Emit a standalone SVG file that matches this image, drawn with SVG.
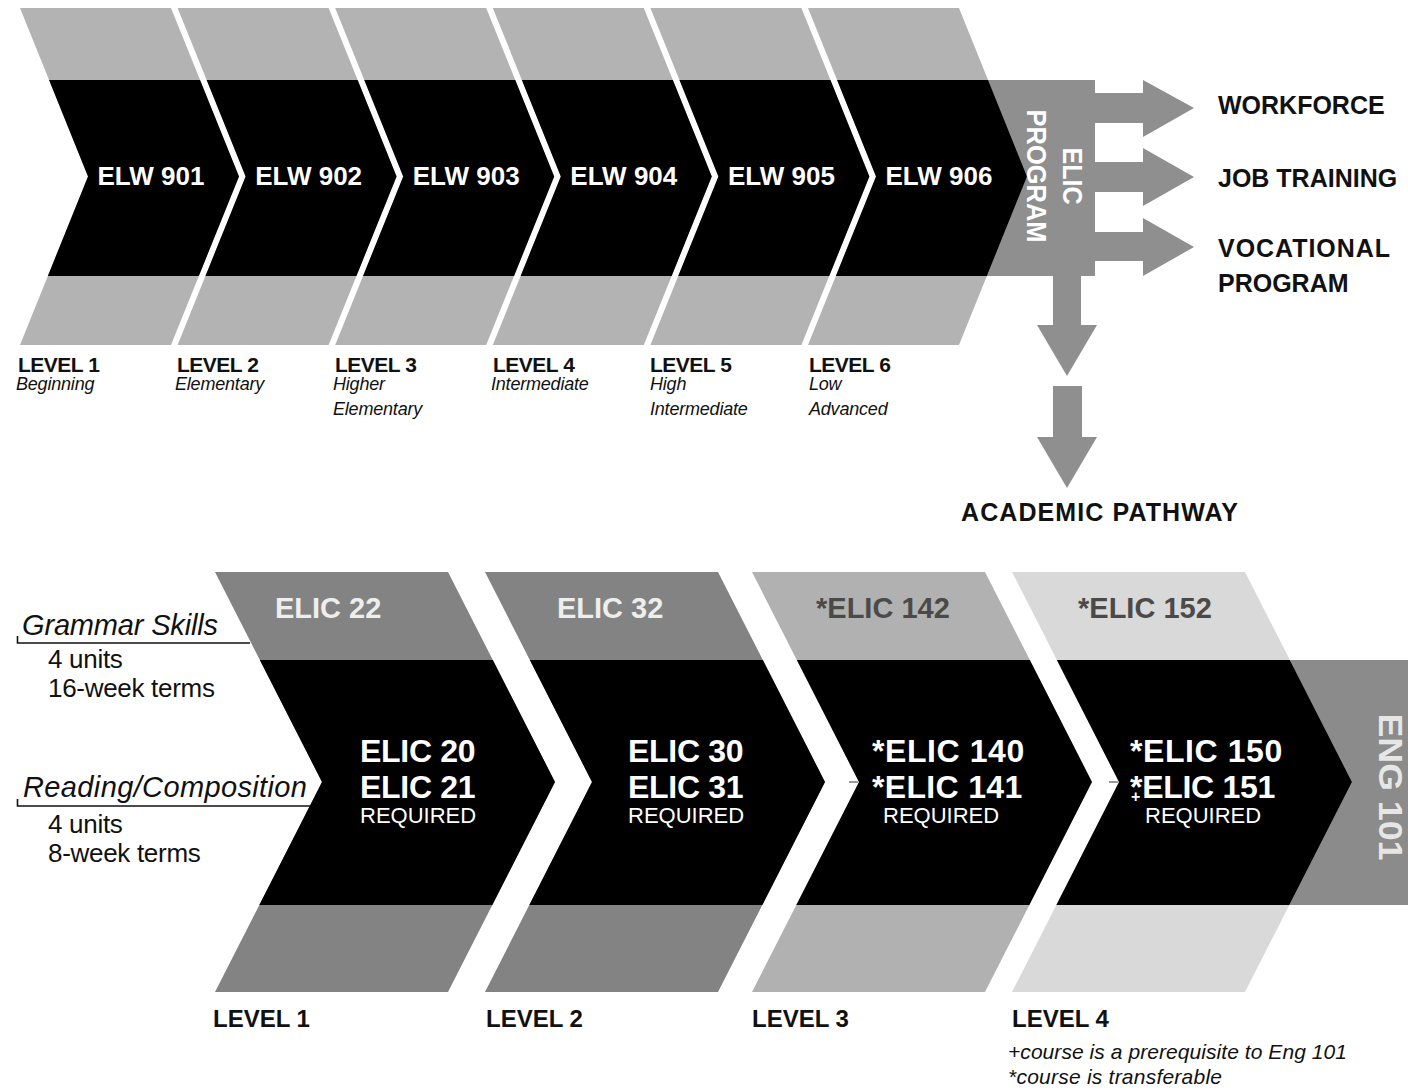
<svg xmlns="http://www.w3.org/2000/svg" xmlns:xlink="http://www.w3.org/1999/xlink" width="1408" height="1092" viewBox="0 0 1408 1092">
<style>
text{font-family:"Liberation Sans",Arial,sans-serif}
.elw{font-size:26px;font-weight:bold;fill:#fff;text-anchor:middle}
.lvl{font-size:21px;font-weight:bold;fill:#111;letter-spacing:-0.5px}
.sub{font-size:18px;font-style:italic;fill:#111;letter-spacing:-0.2px}
.out{font-size:25px;font-weight:bold;fill:#111}
.band{font-size:29px;font-weight:bold}
.main{font-size:32px;font-weight:bold;fill:#fff;letter-spacing:-0.3px}
.req{font-size:22px;fill:#fff}
.blvl{font-size:24px;font-weight:bold;fill:#111}
.side{font-size:29px;font-style:italic;fill:#111}
.unit{font-size:26px;fill:#111;letter-spacing:-0.3px}
.note{font-size:21px;font-style:italic;fill:#111}
.lg{fill:#b3b3b3}
.blk{fill:#000}
.mg{fill:#8f8f8f}
</style>
<defs>
<polygon id="chevT" points="0,8 151,8 219,176.5 151,345 0,345 68,176.5"/>
<polygon id="chevB" points="0,572 233,572 340,782 233,992 0,992 107,782"/>
<clipPath id="midTop" clipPathUnits="userSpaceOnUse"><rect x="-200" y="80" width="1800" height="196"/></clipPath>
<clipPath id="midBot" clipPathUnits="userSpaceOnUse"><rect x="-200" y="660" width="1800" height="245"/></clipPath>
</defs>

<g id="elic-program">
<rect x="960" y="80" width="135" height="196" class="mg"/>
</g>

<g id="connectors" class="mg">
<rect x="1094" y="93" width="50" height="30"/>
<polygon points="1143,80 1194,108 1143,137"/>
<rect x="1094" y="162" width="50" height="30"/>
<polygon points="1143,148 1194,177 1143,206"/>
<rect x="1094" y="232" width="50" height="29"/>
<polygon points="1143,218 1194,247 1143,276"/>
<rect x="1053" y="275" width="28" height="51"/>
<polygon points="1037,325 1097,325 1067,376"/>
<rect x="1053" y="386" width="29" height="52"/>
<polygon points="1037,437 1097,437 1067,488"/>
</g>

<g id="elw901" transform="translate(20,0)">
<use xlink:href="#chevT" class="lg"/><use xlink:href="#chevT" class="blk" clip-path="url(#midTop)"/>
<text class="elw" x="131" y="185">ELW 901</text>
</g>
<g id="elw902" transform="translate(177.6,0)">
<use xlink:href="#chevT" class="lg"/><use xlink:href="#chevT" class="blk" clip-path="url(#midTop)"/>
<text class="elw" x="131" y="185">ELW 902</text>
</g>
<g id="elw903" transform="translate(335.2,0)">
<use xlink:href="#chevT" class="lg"/><use xlink:href="#chevT" class="blk" clip-path="url(#midTop)"/>
<text class="elw" x="131" y="185">ELW 903</text>
</g>
<g id="elw904" transform="translate(492.8,0)">
<use xlink:href="#chevT" class="lg"/><use xlink:href="#chevT" class="blk" clip-path="url(#midTop)"/>
<text class="elw" x="131" y="185">ELW 904</text>
</g>
<g id="elw905" transform="translate(650.4,0)">
<use xlink:href="#chevT" class="lg"/><use xlink:href="#chevT" class="blk" clip-path="url(#midTop)"/>
<text class="elw" x="131" y="185">ELW 905</text>
</g>
<g id="elw906" transform="translate(808,0)">
<use xlink:href="#chevT" class="lg"/><use xlink:href="#chevT" class="blk" clip-path="url(#midTop)"/>
<text class="elw" x="131" y="185">ELW 906</text>
</g>

<g id="elic-program-label" transform="translate(1055,176) rotate(90)" style="font-weight:bold;font-size:28px;fill:#fff;text-anchor:middle">
<text x="0" y="-7.5" textLength="57" lengthAdjust="spacingAndGlyphs">ELIC</text>
<text x="0" y="28.5" textLength="133" lengthAdjust="spacingAndGlyphs">PROGRAM</text>
</g>

<g id="top-levels">
<text class="lvl" x="18" y="372">LEVEL 1</text>
<text class="sub" x="16" y="390">Beginning</text>
<text class="lvl" x="177" y="372">LEVEL 2</text>
<text class="sub" x="175" y="390">Elementary</text>
<text class="lvl" x="335" y="372">LEVEL 3</text>
<text class="sub" x="333" y="390">Higher</text>
<text class="sub" x="333" y="415">Elementary</text>
<text class="lvl" x="493" y="372">LEVEL 4</text>
<text class="sub" x="491" y="390">Intermediate</text>
<text class="lvl" x="650" y="372">LEVEL 5</text>
<text class="sub" x="650" y="390">High</text>
<text class="sub" x="650" y="415">Intermediate</text>
<text class="lvl" x="809" y="372">LEVEL 6</text>
<text class="sub" x="809" y="390">Low</text>
<text class="sub" x="809" y="415">Advanced</text>
</g>

<g id="workforce"><text class="out" x="1218" y="114">WORKFORCE</text></g>
<g id="job-training"><text class="out" x="1218" y="187">JOB TRAINING</text></g>
<g id="vocational"><text class="out" x="1218" y="257" textLength="172">VOCATIONAL</text><text class="out" x="1218" y="292">PROGRAM</text></g>
<g id="academic-pathway"><text class="out" x="961" y="521" textLength="277">ACADEMIC PATHWAY</text></g>

<g id="eng101">
<rect x="1250" y="660" width="158" height="245" fill="#8b8b8b"/>
<g transform="translate(1391,787) rotate(90)"><text x="0" y="12" text-anchor="middle" font-size="34" font-weight="bold" fill="#e6e6e6" textLength="147" lengthAdjust="spacingAndGlyphs">ENG 101</text></g>
</g>

<g id="level1" transform="translate(215,0)">
<use xlink:href="#chevB" fill="#838383"/><use xlink:href="#chevB" class="blk" clip-path="url(#midBot)"/>
</g>
<g id="level2" transform="translate(485,0)">
<use xlink:href="#chevB" fill="#838383"/><use xlink:href="#chevB" class="blk" clip-path="url(#midBot)"/>
</g>
<g id="level3" transform="translate(752,0)">
<use xlink:href="#chevB" fill="#b1b1b1"/><use xlink:href="#chevB" class="blk" clip-path="url(#midBot)"/>
</g>
<g id="level4" transform="translate(1012,0)">
<use xlink:href="#chevB" fill="#d9d9d9"/><use xlink:href="#chevB" class="blk" clip-path="url(#midBot)"/>
</g>

<g id="level1-text">
<text class="band" x="275" y="618" fill="#eeeeee">ELIC 22</text>
<text class="main" x="360" y="762">ELIC 20</text>
<text class="main" x="360" y="798">ELIC 21</text>
<text class="req" x="360" y="823">REQUIRED</text>
</g>
<g id="level2-text">
<text class="band" x="557" y="618" fill="#eeeeee">ELIC 32</text>
<text class="main" x="628" y="762">ELIC 30</text>
<text class="main" x="628" y="798">ELIC 31</text>
<text class="req" x="628" y="823">REQUIRED</text>
</g>
<g id="level3-text">
<text class="band" x="816" y="618" fill="#4a4a4a">*ELIC 142</text>
<text class="main" x="872" y="762" textLength="152">*ELIC 140</text>
<text class="main" x="872" y="798" textLength="150">*ELIC 141</text>
<text class="req" x="883" y="823">REQUIRED</text>
</g>
<g id="level4-text">
<text class="band" x="1078" y="618" fill="#4a4a4a">*ELIC 152</text>
<text class="main" x="1130" y="762" textLength="152">*ELIC 150</text>
<text class="main" x="1130" y="798"><tspan font-size="16" dy="4">+</tspan><tspan dx="-10" dy="-4">*</tspan>ELIC 151</text>
<text class="req" x="1145" y="823">REQUIRED</text>
</g>
<path d="M849 782h9M1109 782h9" stroke="#777" stroke-width="1.5" fill="none"/>

<g id="left-labels">
<text class="side" x="22" y="635" textLength="196">Grammar Skills</text>
<path d="M17.5 636V643H250" stroke="#111" stroke-width="1.6" fill="none"/>
<text class="unit" x="48" y="668">4 units</text>
<text class="unit" x="48" y="697">16-week terms</text>
<text class="side" x="23" y="797" textLength="284">Reading/Composition</text>
<path d="M17.5 799V806H310" stroke="#111" stroke-width="1.6" fill="none"/>
<text class="unit" x="48" y="833">4 units</text>
<text class="unit" x="48" y="862">8-week terms</text>
</g>

<g id="bottom-levels">
<text class="blvl" x="213" y="1027">LEVEL 1</text>
<text class="blvl" x="486" y="1027">LEVEL 2</text>
<text class="blvl" x="752" y="1027">LEVEL 3</text>
<text class="blvl" x="1012" y="1027">LEVEL 4</text>
<text class="note" x="1008" y="1059" textLength="339">+course is a prerequisite to Eng 101</text>
<text class="note" x="1008" y="1084" textLength="214">*course is transferable</text>
</g>
</svg>
